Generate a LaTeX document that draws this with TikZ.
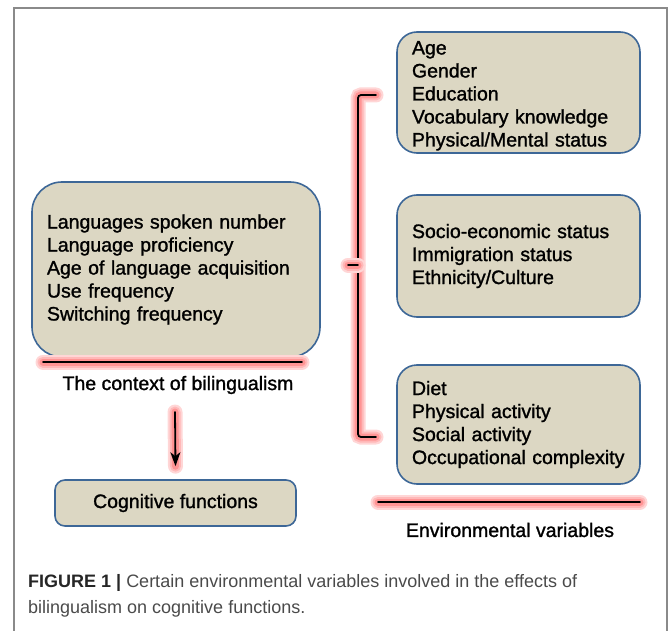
\documentclass[tikz,border=0pt]{standalone}
\usepackage{fontspec}
\setmainfont{Liberation Sans}
\newfontfamily\diagfont[FakeBold=1.3]{Liberation Sans}
\usetikzlibrary{positioning, arrows.meta}

\definecolor{boxfill}{HTML}{DCD7C3}
\definecolor{boxline}{HTML}{3D6797}
\definecolor{framegray}{HTML}{8A8A8A}
\definecolor{captiongray}{HTML}{4A4A4A}

\tikzset{
    varbox/.style={draw=boxline, fill=boxfill, line width=1.6pt, rounded corners=20pt,
        inner xsep=15pt, inner ysep=0pt, align=left, font=\diagfont\fontsize{19.5}{23}\selectfont},
    glow/.style={line width=1.8pt, line cap=round,
        preaction={draw=red!16, line width=15pt, line cap=round, -},
        preaction={draw=red!28, line width=11pt, line cap=round, -},
        preaction={draw=red!42, line width=7pt, line cap=round, -}},
    lbl/.style={font=\diagfont\fontsize{19.5}{23}\selectfont, inner sep=0pt}
}

\begin{document}
\begin{tikzpicture}[x=1pt, y=-1pt]
    \useasboundingbox (0,0) rectangle (669,631);
    % frame
    \draw[framegray, line width=1.2pt] (14,640) -- (14,8) -- (667,8) -- (667,640);

    % left side
    \node[varbox, rounded corners=30pt, text width=258pt, minimum height=175pt] (ctx) at (176,269.5)
        {Languages spoken number\\Language proficiency\\Age of language acquisition\\Use frequency\\Switching frequency};
    \coordinate (ctxl) at (43,362);
    \coordinate (ctxr) at (302,362);
    \draw[glow] (ctxl) -- (ctxr);
    \node[lbl] (ctxlbl) at (178,385) {The context of bilingualism};
    \node[varbox, rounded corners=10pt, align=center, inner xsep=0pt, minimum width=241pt, minimum height=46pt] (cog) at (175.5,503) {Cognitive functions};
    \coordinate (arrtop) at (175,412);
    \draw[glow, -{Stealth[length=14pt, width=10pt, inset=4pt]}] (arrtop) -- ([yshift=13pt]cog.north);

    % right side
    \node[varbox, text width=213pt, minimum height=121pt] (pers) at (518.5,92.5)
        {\rule{0pt}{20pt}Age\\Gender\\Education\\Vocabulary knowledge\\Physical/Mental status};
    \node[varbox, text width=213pt, minimum height=122pt] (soc) at (518.5,256)
        {Socio-economic status\\Immigration status\\Ethnicity/Culture};
    \node[varbox, text width=213pt, minimum height=119pt] (life) at (518.5,424.5)
        {Diet\\Physical activity\\Social activity\\Occupational complexity};

    % bracket
    \coordinate (brtop) at (376,95);
    \coordinate (brbot) at (376,437);
    \coordinate (brmid) at (348,265);
    \draw[glow, rounded corners=3pt] (brtop) -- (358,95) -- (358,437) -- (brbot);
    \draw[glow] (brmid) -- (358,265);

    \coordinate (envl) at (378,502);
    \coordinate (envr) at (640,502);
    \draw[glow] (envl) -- (envr);
    \node[lbl] (envlbl) at (510,530) {Environmental variables};

    % caption
    \node[anchor=west, inner sep=0pt, align=left, text=captiongray, font=\fontsize{18}{26}\selectfont] (cap) at (28,596)
        {{\color{black!85}\bfseries FIGURE 1 |} Certain environmental variables involved in the effects of\\bilingualism on cognitive functions.};
\end{tikzpicture}
\end{document}
